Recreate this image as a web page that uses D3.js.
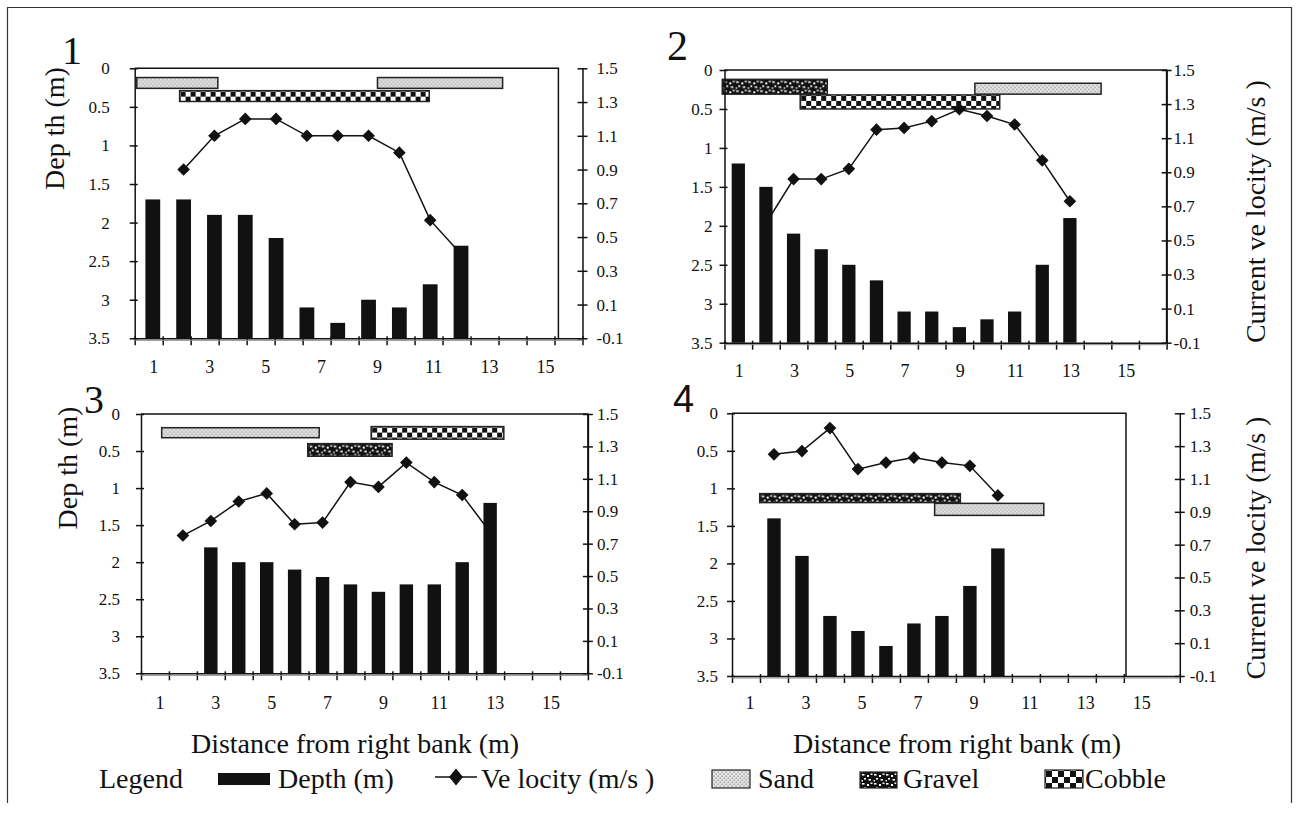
<!DOCTYPE html>
<html>
<head>
<meta charset="utf-8">
<script src="https://cdn.jsdelivr.net/npm/d3@7"></script>
<style>
  body { margin: 0; background: #fff; }
  svg { display: block; }
  text { font-family: "Liberation Serif", "Tinos", "DejaVu Serif", "Noto Serif", "Times New Roman", serif; fill: #111; }
</style>
</head>
<body>
<svg id="chart" width="1299" height="820"></svg>
<script>
// stations across the channel (m from right bank)
var stations = [1, 2, 3, 4, 5, 6, 7, 8, 9, 10, 11, 12, 13, 14, 15, 16];
var distanceLabels = [1, 3, 5, 7, 9, 11, 13, 15];
var depthTicks = [0, 0.5, 1, 1.5, 2, 2.5, 3, 3.5];
var velocityTicks = [-0.1, 0.1, 0.3, 0.5, 0.7, 0.9, 1.1, 1.3, 1.5];

// site 1
var site1Stations = [1, 2, 3, 4, 5, 6, 7, 8, 9, 10, 11];
var site1Depth = [1.7, 1.7, 1.9, 1.9, 2.2, 3.1, 3.3, 3.0, 3.1, 2.8, 2.3];
var site1Velocity = [null, 0.9, 1.1, 1.2, 1.2, 1.1, 1.1, 1.1, 1.0, 0.6, 0.4];
// substrate: type, from station, to station, depth top, depth bottom
var site1Substrate = [["Sand", 0.48, 3.11, 0.12, 0.26], ["Sand", 8.29, 12.35, 0.12, 0.26], ["Cobble", 1.87, 9.97, 0.29, 0.43]];

// site 2
var site2Stations = [1, 2, 3, 4, 5, 6, 7, 8, 9, 10, 11, 12, 13];
var site2Depth = [1.2, 1.5, 2.1, 2.3, 2.5, 2.7, 3.1, 3.1, 3.3, 3.2, 3.1, 2.5, 1.9];
var site2Velocity = [null, 0.6, 0.86, 0.86, 0.92, 1.15, 1.16, 1.2, 1.27, 1.23, 1.18, 0.97, 0.73];
var site2Substrate = [["Gravel", 0.42, 4.22, 0.12, 0.31], ["Cobble", 3.24, 10.46, 0.32, 0.5], ["Sand", 9.56, 14.13, 0.17, 0.31]];

// site 3
var site3Stations = [2, 3, 4, 5, 6, 7, 8, 9, 10, 11, 12, 13];
var site3Depth = [null, 1.8, 2.0, 2.0, 2.1, 2.2, 2.3, 2.4, 2.3, 2.3, 2.0, 1.2];
var site3Velocity = [0.75, 0.84, 0.96, 1.01, 0.82, 0.83, 1.08, 1.05, 1.2, 1.08, 1.0, 0.77];
var site3Substrate = [["Sand", 1.24, 6.88, 0.185, 0.32], ["Cobble", 8.74, 13.49, 0.17, 0.34], ["Gravel", 6.47, 9.49, 0.4, 0.57]];

// site 4
var site4Stations = [2, 3, 4, 5, 6, 7, 8, 9, 10];
var site4Depth = [1.4, 1.9, 2.7, 2.9, 3.1, 2.8, 2.7, 2.3, 1.8];
var site4Velocity = [1.25, 1.27, 1.41, 1.16, 1.2, 1.23, 1.2, 1.18, 1.0];
var site4Substrate = [["Gravel", 1.49, 8.66, 1.07, 1.19], ["Sand", 7.74, 11.64, 1.2, 1.36]];

var serif = "'Liberation Serif', 'Tinos', 'DejaVu Serif', 'Noto Serif', serif";
var sans = "'Liberation Sans', Arial, sans-serif";

var svg = d3.select("#chart");
var defs = svg.append("defs");
var patId = 0;

// fill pattern for a substrate block, anchored at the block corner
function substrateFill(type, x0, y0, cell) {
  var id = "pat" + (patId++);
  var p = defs.append("pattern").attr("id", id).attr("patternUnits", "userSpaceOnUse")
    .attr("x", x0).attr("y", y0);
  if (type == "Sand") {
    p.attr("width", 4).attr("height", 4);
    p.append("rect").attr("width", 4).attr("height", 4).attr("fill", "#e6e6e6");
    p.append("rect").attr("x", 0.5).attr("y", 0.5).attr("width", 1.3).attr("height", 1.3).attr("fill", "#8a8a8a");
    p.append("rect").attr("x", 2.5).attr("y", 2.5).attr("width", 1.3).attr("height", 1.3).attr("fill", "#8a8a8a");
  } else if (type == "Gravel") {
    p.attr("width", 12).attr("height", 9);
    p.append("rect").attr("width", 12).attr("height", 9).attr("fill", "#111");
    [[1, 1, 2.5, 1.6], [6, 2, 2, 2], [9.5, 0.5, 2, 1.5], [3, 5, 2, 1.6], [7.5, 6, 2.5, 1.6], [0.5, 7, 1.5, 1.5]]
      .forEach(function (r) {
        p.append("rect").attr("x", r[0]).attr("y", r[1]).attr("width", r[2]).attr("height", r[3]).attr("fill", "#fff");
      });
  } else {
    var c = cell || 5;
    p.attr("width", 2 * c).attr("height", 2 * c);
    p.append("rect").attr("width", 2 * c).attr("height", 2 * c).attr("fill", "#fff");
    p.append("rect").attr("width", c).attr("height", c).attr("fill", "#111");
    p.append("rect").attr("x", c).attr("y", c).attr("width", c).attr("height", c).attr("fill", "#111");
  }
  return "url(#" + id + ")";
}

var diamond = d3.symbol().type(d3.symbolSquare).size(80);

var panels = [
  { num: "1", stations: site1Stations, depth: site1Depth, velocity: site1Velocity, substrate: site1Substrate,
    left: 134.7, right: 582.5, boxRight: 558.4, top: 68.3, bottom: 338.3,
    barScale: d3.scaleLinear().domain([1, 11]).range([152.8, 461]),
    leftGap: 25, rightGap: 14, labelDx: 5, labelY: 373,
    numX: 62, numY: 63.5, numFont: serif, numSize: 40,
    title: "Dep th (m)", titleX: 64, titleY: 128.5 },
  { num: "2", stations: site2Stations, depth: site2Depth, velocity: site2Velocity, substrate: site2Substrate,
    left: 724.5, right: 1166.6, boxRight: 1166.6, top: 70, bottom: 342.7,
    leftGap: 12, rightGap: 7, labelDx: 1, labelY: 377,
    numX: 667, numY: 60, numFont: serif, numSize: 42,
    title: "Current ve locity (m/s )", titleX: 1265, titleY: 211.7 },
  { num: "3", stations: site3Stations, depth: site3Depth, velocity: site3Velocity, substrate: site3Substrate,
    left: 141, right: 587.9, boxRight: 587.9, top: 414, bottom: 673.3,
    leftGap: 21, rightGap: 9, labelDx: 5, labelY: 709,
    numX: 84, numY: 413, numFont: serif, numSize: 40,
    title: "Dep th (m)", titleX: 77, titleY: 468 },
  { num: "4", stations: site4Stations, depth: site4Depth, velocity: site4Velocity, substrate: site4Substrate,
    left: 732, right: 1179.8, boxRight: 1126, top: 413.3, bottom: 676,
    leftGap: 14, rightGap: 10, labelDx: 4, labelY: 709,
    numX: 673, numY: 412, numFont: sans, numSize: 38,
    title: "Current ve locity (m/s )", titleX: 1265, titleY: 548 }
];

panels.forEach(function (p) {
  var g = svg.append("g").style("font-family", serif);
  var x = d3.scaleLinear().domain([0.5, 16.5]).range([p.left, p.right]);
  var xb = p.barScale || x;
  var y = d3.scaleLinear().domain([0, 3.5]).range([p.top, p.bottom]);
  var v = d3.scaleLinear().domain([-0.1, 1.5]).range([p.bottom, p.top]);
  var bw = Math.abs(xb(2) - xb(1)) * 0.48;

  // plot box (top and right edge)
  g.append("path")
    .attr("d", "M" + p.left + "," + p.top + "H" + p.boxRight + "V" + p.bottom)
    .attr("fill", "none").attr("stroke", "#111").attr("stroke-width", 1.5);

  // substrate blocks
  p.substrate.forEach(function (s) {
    var x0 = xb(s[1]), y0 = y(s[3]);
    g.append("rect")
      .attr("x", x0).attr("y", y0)
      .attr("width", xb(s[2]) - x0).attr("height", y(s[4]) - y0)
      .attr("fill", substrateFill(s[0], x0 + 1, y0 + 1))
      .attr("stroke", "#222").attr("stroke-width", 1.5);
  });

  var pts = p.stations.map(function (s, i) { return { s: s, d: p.depth[i], v: p.velocity[i] }; });

  // velocity line and markers (bars are drawn over them)
  var line = d3.line()
    .defined(function (d) { return d.v != null; })
    .x(function (d) { return xb(d.s); })
    .y(function (d) { return v(d.v); });
  g.append("path").datum(pts).attr("d", line)
    .attr("fill", "none").attr("stroke", "#111").attr("stroke-width", 1.5);

  g.selectAll(".mk").data(pts.filter(function (d) { return d.v != null; }))
    .enter().append("path")
    .attr("transform", function (d) { return "translate(" + xb(d.s) + "," + v(d.v) + ") rotate(45)"; })
    .attr("d", diamond).attr("fill", "#111");

  // depth bars hanging from the surface line at the bottom
  g.selectAll(".bar").data(pts.filter(function (d) { return d.d != null; }))
    .enter().append("rect")
    .attr("x", function (d) { return xb(d.s) - bw / 2; })
    .attr("y", function (d) { return y(d.d); })
    .attr("width", bw)
    .attr("height", function (d) { return y(3.5) - y(d.d); })
    .attr("fill", "#111");

  // left depth axis
  g.append("g").attr("transform", "translate(" + p.left + ",0)")
    .call(d3.axisLeft(y).tickValues(depthTicks).tickSize(5).tickSizeOuter(0)
      .tickPadding(p.leftGap - 5).tickFormat(function (d) { return String(d); }))
    .call(function (a) {
      a.attr("font-family", null).attr("font-size", null);
      a.selectAll(".tick line").attr("x1", 3);
      a.selectAll("text").style("font-size", "17px").style("font-family", serif);
    });

  // right velocity axis
  g.append("g").attr("transform", "translate(" + p.right + ",0)")
    .call(d3.axisRight(v).tickValues(velocityTicks).tickSize(5).tickSizeOuter(0)
      .tickPadding(p.rightGap - 5).tickFormat(function (d) { return String(d); }))
    .call(function (a) {
      a.attr("font-family", null).attr("font-size", null);
      a.selectAll(".tick line").attr("x1", -5);
      a.selectAll("text").style("font-size", "17px").style("font-family", serif);
    });

  // bottom axis: ticks between stations
  var bounds = [0.5].concat(stations.map(function (s) { return s + 0.5; }))
    .filter(function (b) { return x(b) <= p.boxRight + 1 || b == 16.5; });
  g.append("g").attr("transform", "translate(0," + p.bottom + ")")
    .call(d3.axisBottom(x).tickValues(bounds).tickSize(7).tickSizeOuter(0).tickFormat(""))
    .call(function (a) {
      a.selectAll(".tick line").attr("y1", -2);
    });
  g.append("line")
    .attr("x1", p.left).attr("x2", p.right)
    .attr("y1", p.bottom + 2).attr("y2", p.bottom + 2)
    .attr("stroke", "#888").attr("stroke-width", 1);

  g.selectAll(".xl").data(distanceLabels).enter().append("text")
    .attr("x", function (d) { return x(d) + p.labelDx; })
    .attr("y", p.labelY)
    .attr("text-anchor", "middle")
    .style("font-size", "18px")
    .text(function (d) { return d; });

  g.selectAll(".domain, .tick line").attr("stroke", "#111").attr("stroke-width", 1.5);

  // panel number and axis title
  g.append("text").attr("x", p.numX).attr("y", p.numY)
    .style("font-family", p.numFont).style("font-size", p.numSize + "px")
    .text(p.num);
  g.append("text")
    .attr("transform", "translate(" + p.titleX + "," + p.titleY + ") rotate(-90)")
    .attr("text-anchor", "middle")
    .style("font-size", "28px")
    .text(p.title);
});

// frame
svg.append("path").attr("d", "M7.5,803V7.5H1291.5V803")
  .attr("fill", "none").attr("stroke", "#333").attr("stroke-width", 1.2);

// x titles
[[355, "Distance from right bank (m)"], [957, "Distance from right bank (m)"]].forEach(function (t) {
  svg.append("text").attr("x", t[0]).attr("y", 753).attr("text-anchor", "middle")
    .style("font-family", serif).style("font-size", "28px").text(t[1]);
});

// legend
var lg = svg.append("g").style("font-family", serif).style("font-size", "28px");
lg.append("text").attr("x", 99).attr("y", 788).text("Legend");
lg.append("rect").attr("x", 218).attr("y", 773).attr("width", 52).attr("height", 12).attr("fill", "#111");
lg.append("text").attr("x", 278).attr("y", 788).text("Depth (m)");
lg.append("line").attr("x1", 435).attr("x2", 477).attr("y1", 777).attr("y2", 777)
  .attr("stroke", "#111").attr("stroke-width", 1.5);
lg.append("path").attr("transform", "translate(456,777) scale(0.9,1.1) rotate(45)")
  .attr("d", d3.symbol().type(d3.symbolSquare).size(120)).attr("fill", "#111");
lg.append("text").attr("x", 481).attr("y", 788).text("Ve locity (m/s )");

var swatches = [["Sand", 712, 770, 38, 18, 758], ["Gravel", 860, 772, 37, 16, 903], ["Cobble", 1045, 770, 38, 18, 1085]];
swatches.forEach(function (s) {
  lg.append("rect").attr("x", s[1]).attr("y", s[2]).attr("width", s[3]).attr("height", s[4])
    .attr("fill", substrateFill(s[0], s[1] + 1, s[2] + 1, 6))
    .attr("stroke", "#222").attr("stroke-width", 1.2);
  lg.append("text").attr("x", s[5]).attr("y", 788).text(s[0]);
});
</script>
</body>
</html>
